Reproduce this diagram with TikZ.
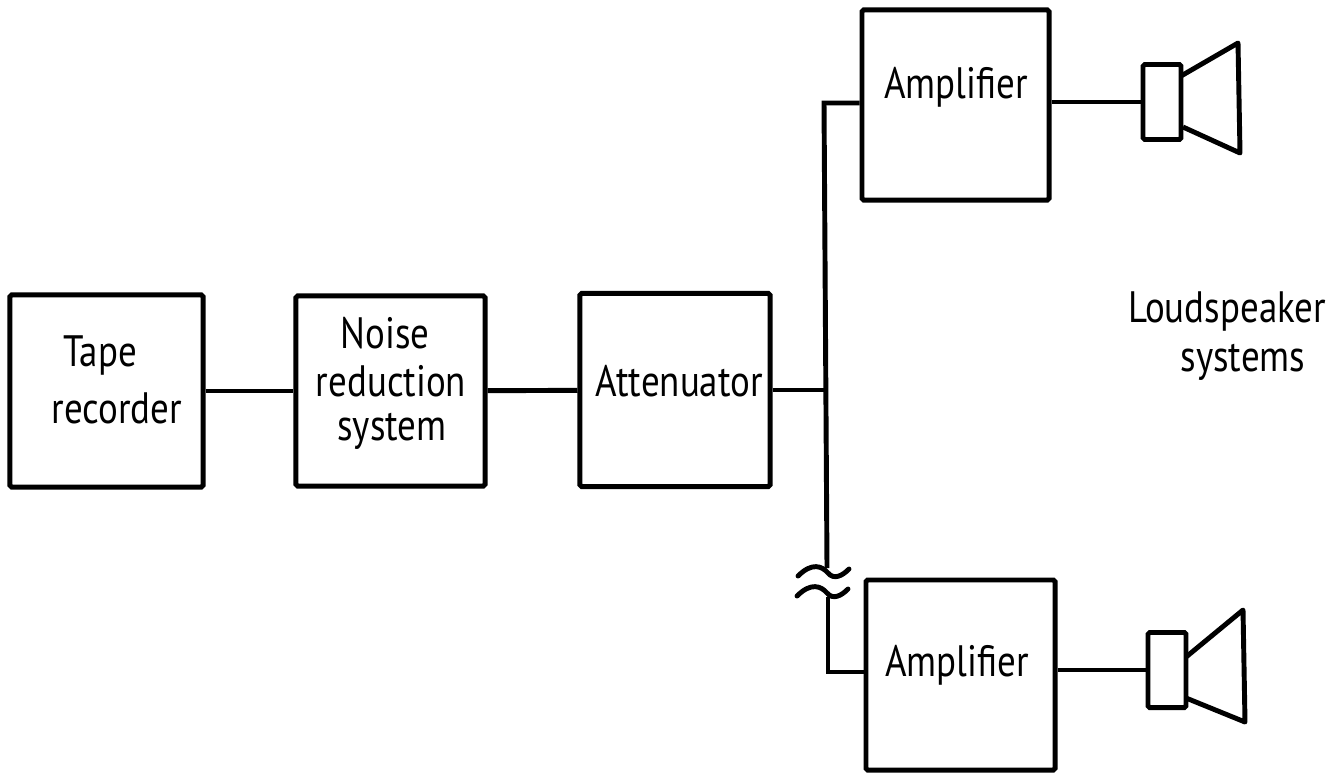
\documentclass[tikz,border=0pt]{standalone}
\usepackage{fontspec}
\setmainfont[FakeStretch=.84]{PT Sans}
\usepackage{tikz}
\tikzset{
	block/.style={draw,line width=1.4pt,rounded corners=.5pt,inner sep=0pt},
	wire/.style={line width=1.4pt},
	caption/.style={inner sep=0pt,font=\fontsize{12.5}{15}\selectfont}
}
\def\firstcone{(1181,76) -- (1238,43) -- (1240,153) -- (1183,127)}
\def\secondcone{(1186,657) -- (1243,610) -- (1245,722) -- (1186,698)}

\begin{document}
\begin{tikzpicture}[x=.01cm,y=-.01cm]
	\useasboundingbox (0,0) rectangle (1340,772);
	\node[block,minimum width=1.93cm,minimum height=1.92cm] (tape) at (106.5,391) {};
	\node[block,minimum width=1.89cm,minimum height=1.90cm] (noise) at (390.5,391) {};
	\node[block,minimum width=1.90cm,minimum height=1.93cm] (atten) at (675,390) {};
	\node[block,minimum width=1.87cm,minimum height=1.90cm] (ampup) at (955.5,105) {};
	\node[block,minimum width=1.89cm,minimum height=1.90cm] (ampdown) at (960.5,675) {};
	\node[block,minimum width=.38cm,minimum height=.75cm] (spkup) at (1162,102) {};
	\node[block,minimum width=.38cm,minimum height=.75cm] (spkdown) at (1167,670) {};
	\node[caption] (tapeA) at (100,355) {Tape};
	\node[caption] (tapeB) at (117,408) {recorder};
	\node[caption] (noiseA) at (385,333) {Noise};
	\node[caption] (noiseB) at (391,381) {reduction};
	\node[caption] (noiseC) at (392,431) {system};
	\node[caption] (attenA) at (679,381) {Attenuator};
	\node[caption] (ampupA) at (956,87) {Amplifier};
	\node[caption] (ampdownA) at (957,665) {Amplifier};
	\node[caption] (loudA) at (1227,311) {Loudspeaker};
	\node[caption] (loudB) at (1243,362) {systems};
	\coordinate (busmid) at (826,390);
	\coordinate (bustop) at (824,103);
	\coordinate (buscut) at (827,568);
	\coordinate (busrest) at (828,597);
	\coordinate (buslow) at (828,672);
	\draw[wire] (tape) -- (noise);
	\draw[wire] (noise) -- (atten);
	\draw[wire] (atten.east |- busmid) -- (busmid);
	\draw[wire] (ampup.west |- bustop) -- (bustop) -- (buscut);
	\draw[wire] (busrest) -- (buslow) -- (ampdown.west |- buslow);
	\draw[wire] (ampup.east |- spkup) -- (spkup.west);
	\draw[wire] (ampdown.east |- spkdown) -- (spkdown.west);
	\draw[wire,line join=round] \firstcone;
	\draw[wire,line join=round] \secondcone;
	% break in the line
	\draw[wire,line cap=round] (798,576) .. controls (812,562) and (822,566) .. (828,573) .. controls (834,580) and (842,576) .. (849,569);
	\draw[wire,line cap=round] (797,596) .. controls (811,582) and (821,586) .. (827,593) .. controls (833,600) and (841,596) .. (848,589);
\end{tikzpicture}
\end{document}
